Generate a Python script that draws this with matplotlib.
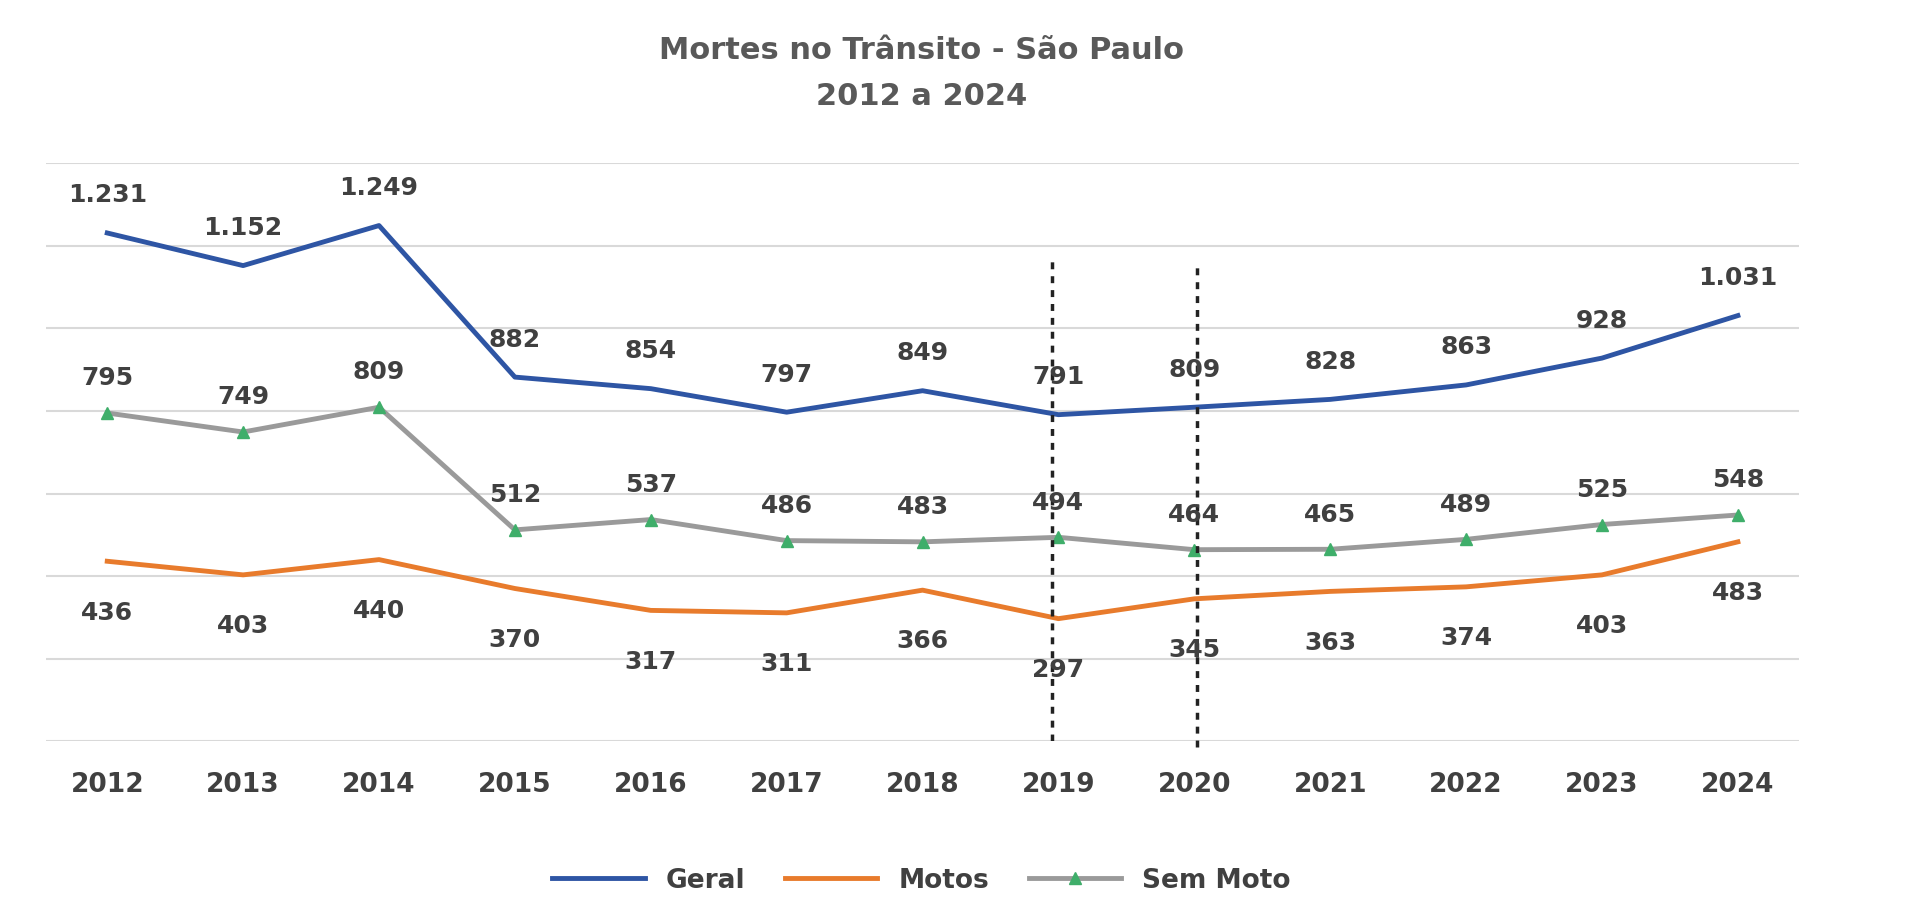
import matplotlib
matplotlib.use("Agg")
import matplotlib.pyplot as plt

years = [2012, 2013, 2014, 2015, 2016, 2017, 2018, 2019, 2020, 2021, 2022, 2023, 2024]
geral = [1231, 1152, 1249, 882, 854, 797, 849, 791, 809, 828, 863, 928, 1031]
motos = [436, 403, 440, 370, 317, 311, 366, 297, 345, 363, 374, 403, 483]
sem_moto = [795, 749, 809, 512, 537, 486, 483, 494, 464, 465, 489, 525, 548]

def fmt(v):
    return f"{v:,}".replace(",", ".")

fig = plt.figure(figsize=(19.2, 9.22), dpi=100)
ax = fig.add_axes([0.024, 0.196, 0.913, 0.627])
x = list(range(len(years)))
ax.plot(x, geral, color="#2E55A4", lw=3.5, label="Geral")
ax.plot(x, motos, color="#E87B2C", lw=3.5, label="Motos")
ax.plot(x, sem_moto, color="#9A9A9A", lw=3.5, marker="^", markersize=9,
        markerfacecolor="#3FAE6A", markeredgecolor="#3FAE6A", label="Sem Moto")
ax.set_xlim(-0.45, len(years) - 0.55)
ax.set_ylim(0, 1400)
ax.set_yticks(range(0, 1401, 200))
ax.yaxis.grid(True, color="#D9D9D9", lw=1.5)
ax.set_yticklabels([])
ax.tick_params(axis="y", length=0)
ax.tick_params(axis="x", length=0, pad=22)
ax.set_xticks(x)
ax.set_xticklabels([str(y) for y in years], fontsize=19, fontweight="bold", color="#404040")
for s in ax.spines.values():
    s.set_visible(False)
ax.set_axisbelow(True)

tc = "#404040"
for i in x:
    ax.annotate(fmt(geral[i]), (i, geral[i]), xytext=(0, 22), textcoords="offset points",
                ha="center", fontsize=18, fontweight="bold", color=tc)
    ax.annotate(fmt(sem_moto[i]), (i, sem_moto[i]), xytext=(0, 20), textcoords="offset points",
                ha="center", fontsize=18, fontweight="bold", color=tc)
    ax.annotate(fmt(motos[i]), (i, motos[i]), xytext=(0, -42), textcoords="offset points",
                ha="center", fontsize=18, fontweight="bold", color=tc)

ax.plot([6.95, 6.95], [0, 1170], ls=(0, (2, 2)), color="#222222", lw=2.5)
ax.plot([8.02, 8.02], [-15, 1150], ls=(0, (2, 2)), color="#222222", lw=2.5, clip_on=False)

fig.text(0.48, 0.945, "Mortes no Trânsito - São Paulo", ha="center", va="center",
         fontsize=22, fontweight="bold", color="#595959")
fig.text(0.48, 0.895, "2012 a 2024", ha="center", va="center",
         fontsize=22, fontweight="bold", color="#595959")
fig.legend(loc="center", bbox_to_anchor=(0.48, 0.045), ncol=3, frameon=False,
           prop={"size": 19, "weight": "bold"}, labelcolor="#404040",
           handlelength=3.5, columnspacing=1.5)
fig.savefig("out.png", dpi=100, facecolor="white")
